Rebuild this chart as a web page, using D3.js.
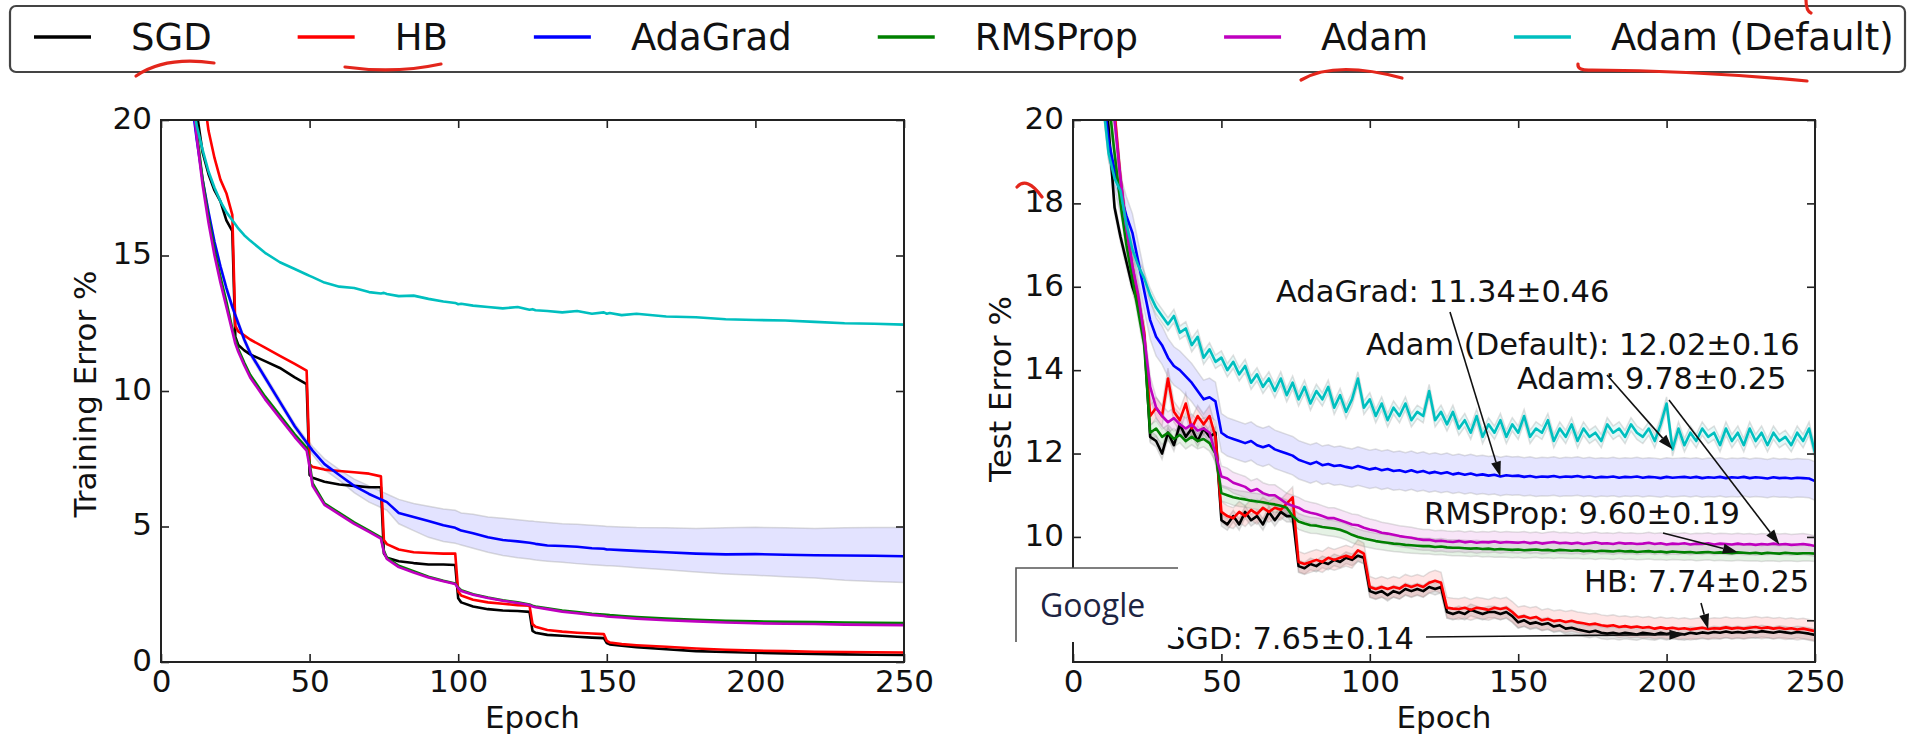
<!DOCTYPE html>
<html>
<head>
<meta charset="utf-8">
<script src="https://cdn.jsdelivr.net/npm/d3@7"></script>
<style>
  html, body { margin: 0; padding: 0; background: #fff; }
  svg { display: block; }
</style>
</head>
<body>
<svg id="chart" width="1919" height="741"></svg>
<script>
// ---- series ----
const seriesNames  = ["SGD", "HB", "AdaGrad", "RMSProp", "Adam", "Adam (Default)"];
const seriesColors = ["#000000", "#ff0000", "#0000ff", "#008000", "#bf00bf", "#00bfbf"];

// ---- training error (%) ----
const trainEpochs = [8,10,12,14,16,18,20,22,24,25,26,28,30,35,40,45,49,50,51,55,60,65,70,74,75,76,80,85,90,95,99,
  100,101,105,110,115,120,124,125,126,130,135,140,145,149,150,151,155,160,170,180,190,200,210,220,230,240,250];

const trainSGD = [25,22.5,20.3,18.8,18.0,17.4,17.0,16.3,15.9,12.0,11.7,11.5,11.35,11.1,10.85,10.5,10.25,6.9,6.8,6.65,6.55,6.5,6.45,6.45,4.0,3.85,3.72,3.65,3.6,3.6,3.58,
  2.35,2.2,2.05,1.95,1.9,1.88,1.85,1.15,1.08,1.0,0.97,0.93,0.9,0.88,0.7,0.65,0.6,0.55,0.47,0.4,0.37,0.34,0.32,0.3,0.28,0.27,0.26];
const trainHB = [27,25,23,21.2,19.6,18.6,17.8,17.3,16.5,12.4,12.2,12.05,11.9,11.6,11.3,11.0,10.75,7.3,7.2,7.1,7.05,7.0,6.95,6.85,4.5,4.35,4.15,4.05,4.02,4.0,4.0,
  2.6,2.45,2.3,2.2,2.15,2.1,2.08,1.4,1.3,1.18,1.12,1.08,1.05,1.03,0.78,0.72,0.66,0.62,0.56,0.5,0.45,0.42,0.4,0.38,0.37,0.36,0.35];
const trainAdaGrad = [23,21,19.3,17.8,16.6,15.5,14.6,13.8,13.1,12.8,12.5,11.9,11.4,10.5,9.6,8.7,8.1,7.95,7.8,7.3,6.9,6.5,6.2,6.0,5.95,5.9,5.5,5.35,5.2,5.05,4.95,
  4.9,4.85,4.75,4.6,4.5,4.45,4.4,4.38,4.36,4.3,4.28,4.25,4.2,4.18,4.15,4.15,4.13,4.1,4.05,4.0,3.97,3.98,3.96,3.94,3.93,3.92,3.9];
const trainAdaGradHi = [23.1,21.1,19.4,17.9,16.7,15.6,14.7,13.9,13.2,12.9,12.6,12.0,11.5,10.6,9.7,8.8,8.2,8.1,7.95,7.5,7.1,6.75,6.5,6.3,6.25,6.2,6.0,5.85,5.75,5.65,5.6,
  5.55,5.5,5.45,5.35,5.3,5.25,5.2,5.2,5.18,5.15,5.1,5.08,5.05,5.02,5.0,5.0,4.98,4.96,4.95,4.93,4.95,4.97,4.95,4.93,4.95,4.96,4.96];
const trainAdaGradLo = [22.9,20.9,19.2,17.7,16.5,15.4,14.5,13.7,13.0,12.7,12.4,11.8,11.3,10.4,9.5,8.6,8.0,7.8,7.65,7.1,6.7,6.25,5.9,5.7,5.65,5.6,5.1,4.85,4.6,4.45,4.38,
  4.35,4.32,4.2,4.05,3.93,3.85,3.8,3.78,3.76,3.72,3.68,3.63,3.59,3.56,3.55,3.55,3.52,3.48,3.4,3.32,3.25,3.2,3.15,3.1,3.02,2.97,2.93];
const trainRMSProp = [24,21.8,19.6,17.8,16.4,15.2,14.2,13.3,12.3,11.9,11.55,11.05,10.6,9.8,9.1,8.4,7.9,7.35,6.6,5.85,5.5,5.15,4.85,4.6,4.1,3.85,3.55,3.35,3.15,3.0,2.9,
  2.75,2.65,2.5,2.38,2.28,2.2,2.12,2.08,2.05,1.98,1.9,1.84,1.78,1.75,1.74,1.73,1.7,1.66,1.6,1.56,1.52,1.5,1.48,1.47,1.46,1.45,1.44];
const trainAdam = [24,21.6,19.4,17.6,16.2,15.0,14.0,13.1,12.2,11.75,11.45,10.95,10.5,9.7,9.0,8.3,7.8,7.2,6.5,5.8,5.45,5.1,4.8,4.55,4.05,3.8,3.5,3.3,3.12,2.98,2.88,
  2.72,2.62,2.48,2.36,2.26,2.18,2.1,2.05,2.02,1.95,1.86,1.8,1.74,1.7,1.68,1.67,1.64,1.6,1.54,1.5,1.46,1.43,1.41,1.4,1.38,1.37,1.36];
const trainAdamDefault = [23.5,21.3,19.8,18.9,18.1,17.5,17.0,16.6,16.3,16.15,16.0,15.75,15.55,15.1,14.75,14.5,14.3,14.25,14.2,14.0,13.85,13.8,13.65,13.6,13.62,13.58,13.5,13.52,13.4,13.3,13.25,
  13.2,13.22,13.15,13.1,13.05,13.1,13.0,13.02,12.98,12.95,12.9,12.95,12.85,12.9,12.85,12.88,12.8,12.85,12.75,12.72,12.65,12.62,12.6,12.55,12.5,12.48,12.45];

// ---- test error (%), every second epoch from 8 to 250 ----
const testEpochs = d3.range(8, 251, 2);

const testSGD = [
  23.5,21.5,19.8,17.9,17.2,16.6,16.0,15.6,14.8,12.4,
  12.3,12.0,12.5,12.2,12.7,12.4,12.6,12.3,12.6,12.4,
  12.5,10.4,10.3,10.5,10.3,10.6,10.4,10.5,10.3,10.6,
  10.4,10.6,10.5,10.5,9.3,9.25,9.35,9.3,9.4,9.35,
  9.45,9.4,9.5,9.45,9.55,9.5,8.7,8.65,8.7,8.6,
  8.7,8.65,8.75,8.7,8.75,8.7,8.8,8.75,8.8,8.2,
  8.15,8.2,8.15,8.25,8.2,8.15,8.2,8.2,8.15,8.2,
  8.1,7.95,8.0,7.92,7.95,7.9,7.93,7.85,7.88,7.8,
  7.82,7.78,7.75,7.72,7.75,7.7,7.68,7.7,7.67,7.7,
  7.68,7.66,7.7,7.68,7.66,7.7,7.67,7.7,7.68,7.66,
  7.7,7.68,7.71,7.69,7.72,7.7,7.73,7.7,7.72,7.7,
  7.73,7.71,7.74,7.72,7.7,7.73,7.71,7.69,7.72,7.7,
  7.68,7.65];
const testHB = [
  24.5,22.5,21.0,20.2,18.6,17.4,16.5,15.7,14.9,12.9,
  13.1,12.9,13.8,13.0,12.8,13.2,12.6,12.9,12.7,12.9,
  12.4,10.6,10.5,10.45,10.6,10.5,10.65,10.55,10.7,10.6,
  10.7,10.65,10.8,10.95,9.4,9.35,9.4,9.45,9.4,9.5,
  9.45,9.5,9.55,9.5,9.68,9.6,8.8,8.75,8.8,8.75,
  8.8,8.76,8.85,8.8,8.85,8.8,8.9,8.95,8.9,8.3,
  8.28,8.27,8.3,8.25,8.3,8.28,8.25,8.3,8.27,8.3,
  8.2,8.07,8.1,8.05,8.08,8.0,8.03,7.98,8.0,7.96,
  7.99,7.95,7.93,7.9,7.92,7.88,7.86,7.88,7.84,7.86,
  7.83,7.85,7.82,7.84,7.8,7.83,7.8,7.82,7.79,7.81,
  7.78,7.8,7.82,7.79,7.81,7.8,7.83,7.8,7.82,7.8,
  7.82,7.84,7.81,7.83,7.8,7.82,7.79,7.81,7.78,7.8,
  7.77,7.74];
const testAdaGrad = [
  23.0,20.8,19.5,18.8,18.2,17.7,17.3,16.6,15.9,15.2,
  14.8,14.6,14.3,14.1,14.0,13.85,13.7,13.5,13.3,13.35,
  13.25,12.5,12.4,12.35,12.3,12.25,12.3,12.2,12.15,12.2,
  12.1,12.05,12.0,11.95,11.85,11.8,11.75,11.8,11.72,11.75,
  11.7,11.72,11.68,11.65,11.7,11.66,11.62,11.65,11.6,11.63,
  11.58,11.6,11.56,11.6,11.55,11.58,11.53,11.56,11.52,11.55,
  11.5,11.53,11.49,11.52,11.48,11.5,11.47,11.49,11.45,11.48,
  11.46,11.47,11.44,11.46,11.43,11.45,11.44,11.46,11.43,11.45,
  11.44,11.46,11.43,11.45,11.42,11.44,11.43,11.45,11.42,11.44,
  11.43,11.45,11.42,11.44,11.43,11.41,11.44,11.42,11.43,11.44,
  11.42,11.44,11.41,11.43,11.42,11.44,11.41,11.43,11.42,11.44,
  11.41,11.43,11.42,11.4,11.43,11.41,11.42,11.4,11.42,11.41,
  11.4,11.34];
const testRMSProp = [
  24.0,22.0,20.5,19.2,18.0,17.0,16.2,15.4,14.6,12.5,
  12.6,12.4,12.5,12.35,12.45,12.3,12.4,12.3,12.35,12.25,
  12.0,11.05,11.0,10.95,10.92,10.9,10.87,10.85,10.83,10.8,
  10.78,10.75,10.7,10.5,10.37,10.32,10.28,10.27,10.24,10.22,
  10.2,10.17,10.12,10.05,10.0,9.96,9.93,9.9,9.88,9.86,
  9.84,9.83,9.81,9.8,9.79,9.78,9.78,9.76,9.77,9.75,
  9.74,9.74,9.73,9.72,9.73,9.71,9.72,9.7,9.71,9.7,
  9.69,9.7,9.68,9.69,9.7,9.68,9.69,9.67,9.69,9.68,
  9.67,9.68,9.66,9.67,9.65,9.67,9.66,9.65,9.67,9.65,
  9.66,9.64,9.65,9.66,9.64,9.65,9.63,9.65,9.64,9.63,
  9.64,9.62,9.63,9.64,9.62,9.63,9.62,9.61,9.63,9.62,
  9.61,9.62,9.6,9.62,9.61,9.6,9.62,9.61,9.6,9.61,
  9.61,9.60];
const testAdam = [
  24.5,22.8,21.2,20.0,18.6,17.4,16.5,15.8,14.8,13.6,
  13.1,12.9,12.75,12.85,12.7,12.6,12.7,12.55,12.6,12.5,
  12.0,11.45,11.4,11.3,11.25,11.2,11.1,11.15,11.05,11.0,
  11.0,10.9,10.8,10.75,10.7,10.62,10.58,10.55,10.5,10.45,
  10.45,10.4,10.35,10.3,10.28,10.22,10.18,10.15,10.1,10.08,
  10.05,10.02,10.0,9.98,9.95,9.93,9.93,9.9,9.91,9.89,
  9.88,9.9,9.87,9.89,9.86,9.88,9.87,9.89,9.86,9.88,
  9.87,9.86,9.88,9.85,9.87,9.84,9.86,9.88,9.85,9.86,
  9.84,9.86,9.83,9.85,9.87,9.84,9.85,9.83,9.86,9.84,
  9.85,9.83,9.84,9.86,9.83,9.85,9.82,9.84,9.83,9.85,
  9.82,9.84,9.83,9.85,9.82,9.84,9.83,9.82,9.84,9.82,
  9.83,9.81,9.83,9.82,9.84,9.82,9.83,9.81,9.82,9.83,
  9.81,9.78];
const testAdamDefault = [
  22.5,20.5,19.2,18.6,18.3,17.5,16.9,16.5,16.2,15.8,
  15.5,15.3,15.1,15.3,14.9,15.0,14.6,14.8,14.3,14.5,
  14.2,14.3,14.0,14.2,13.9,14.1,13.7,13.9,13.6,13.8,
  13.5,13.8,13.4,13.7,13.3,13.6,13.2,13.5,13.3,13.6,
  13.1,13.4,13.0,13.3,13.8,13.1,13.3,12.9,13.2,12.8,
  13.1,12.9,13.2,12.8,13.0,12.9,13.5,12.8,13.0,12.7,
  13.0,12.6,12.8,12.5,12.9,12.4,12.7,12.5,12.8,12.4,
  12.7,12.5,12.9,12.4,12.6,12.5,12.8,12.3,12.6,12.4,
  12.7,12.3,12.6,12.4,12.5,12.3,12.7,12.5,12.6,12.4,
  12.7,12.5,12.4,12.6,12.3,12.7,13.2,12.1,12.6,12.2,
  12.5,12.3,12.6,12.4,12.5,12.2,12.6,12.3,12.5,12.2,
  12.6,12.3,12.5,12.2,12.5,12.3,12.4,12.2,12.5,12.3,
  12.6,12.02];
// spread over runs at the end of training
const testStd = [0.14, 0.25, 0.46, 0.19, 0.25, 0.16];
// epoch each annotation arrow points at
const arrowEpochs = [206, 214, 144, 224, 238, 202];

const trainSeries = [trainSGD, trainHB, trainAdaGrad, trainRMSProp, trainAdam, trainAdamDefault];
const testSeries  = [testSGD, testHB, testAdaGrad, testRMSProp, testAdam, testAdamDefault];

// ---- drawing ----
const FONT = "DejaVu Sans";
const svg = d3.select("#chart");

const panels = [
  { x0: 161, x1: 904,  y0: 120, y1: 662, yDomain: [0, 20], yTicks: [0, 5, 10, 15, 20],
    yLabelTicks: [0, 5, 10, 15, 20], title: "Training Error %", labelX: 96, labelY: 394 },
  { x0: 1073, x1: 1815, y0: 120, y1: 662, yDomain: [7, 20], yTicks: [8, 10, 12, 14, 16, 18, 20],
    yLabelTicks: [10, 12, 14, 16, 18, 20], title: "Test Error %", labelX: 1011, labelY: 389 }
];
const xTicks = [0, 50, 100, 150, 200, 250];

panels.forEach((p, pi) => {
  p.x = d3.scaleLinear().domain([0, 250]).range([p.x0, p.x1]);
  p.y = d3.scaleLinear().domain(p.yDomain).range([p.y1, p.y0]);
  svg.append("clipPath").attr("id", "clip" + pi)
    .append("rect").attr("x", p.x0).attr("y", p.y0).attr("width", p.x1 - p.x0).attr("height", p.y1 - p.y0);
  p.g = svg.append("g");
  p.plot = p.g.append("g").attr("clip-path", `url(#clip${pi})`);
});

function styleAxis(sel) {
  sel.select(".domain").remove();
  sel.selectAll(".tick line").attr("stroke", "#222").attr("stroke-width", 1.6);
  sel.selectAll(".tick text").attr("font-family", FONT).attr("font-size", 31).attr("fill", "#111");
}

// training panel
(function () {
  const p = panels[0];
  const line = d3.line().x((d, i) => p.x(trainEpochs[i])).y(d => p.y(d));
  const area = d3.area().x((d, i) => p.x(trainEpochs[i]))
    .y0((d, i) => p.y(trainAdaGradLo[i])).y1((d, i) => p.y(trainAdaGradHi[i]));
  p.plot.append("path").datum(trainAdaGrad).attr("d", area)
    .attr("fill", "#0000ff").attr("fill-opacity", 0.11).attr("stroke", "none");
  [trainAdaGradHi, trainAdaGradLo].forEach(edge => {
    p.plot.append("path").datum(edge).attr("d", line)
      .attr("fill", "none").attr("stroke", "#999").attr("stroke-opacity", 0.35).attr("stroke-width", 1.5);
  });
  trainSeries.forEach((s, i) => {
    p.plot.append("path").datum(s).attr("d", line)
      .attr("fill", "none").attr("stroke", seriesColors[i]).attr("stroke-width", 2.6)
      .attr("stroke-linejoin", "round");
  });
})();

// test panel
(function () {
  const p = panels[1];
  const line = d3.line().x((d, i) => p.x(testEpochs[i])).y(d => p.y(d));
  testSeries.forEach((s, i) => {
    const sd = testStd[i];
    const area = d3.area().x((d, j) => p.x(testEpochs[j])).y0(d => p.y(d - sd)).y1(d => p.y(d + sd));
    p.plot.append("path").datum(s).attr("d", area)
      .attr("fill", seriesColors[i]).attr("fill-opacity", 0.1).attr("stroke", "none");
    [-sd, sd].forEach(off => {
      p.plot.append("path").datum(s.map(v => v + off)).attr("d", line)
        .attr("fill", "none").attr("stroke", "#999").attr("stroke-opacity", 0.3).attr("stroke-width", 1.5);
    });
  });
  testSeries.forEach((s, i) => {
    p.plot.append("path").datum(s).attr("d", line)
      .attr("fill", "none").attr("stroke", seriesColors[i]).attr("stroke-width", 2.6)
      .attr("stroke-linejoin", "round");
  });
})();

// axes, frames, labels
panels.forEach(p => {
  p.g.append("g").attr("transform", `translate(${p.x0},0)`)
    .call(d3.axisLeft(p.y).tickValues(p.yLabelTicks).tickSizeInner(-8).tickSizeOuter(0).tickPadding(9).tickFormat(d3.format("d")))
    .call(styleAxis).call(g => g.selectAll(".tick text").attr("dy", "0.27em"));
  p.g.append("g").attr("transform", `translate(${p.x1},0)`)
    .call(d3.axisRight(p.y).tickValues(p.yTicks).tickSizeInner(-8).tickSizeOuter(0).tickFormat(""))
    .call(styleAxis);
  p.g.append("g").attr("transform", `translate(0,${p.y1})`)
    .call(d3.axisBottom(p.x).tickValues(xTicks).tickSizeInner(-8).tickSizeOuter(0).tickPadding(8).tickFormat(d3.format("d")))
    .call(styleAxis);
  p.g.append("g").attr("transform", `translate(0,${p.y0})`)
    .call(d3.axisTop(p.x).tickValues(xTicks).tickSizeInner(-8).tickSizeOuter(0).tickFormat(""))
    .call(styleAxis);
  p.g.append("rect").attr("x", p.x0).attr("y", p.y0).attr("width", p.x1 - p.x0).attr("height", p.y1 - p.y0)
    .attr("fill", "none").attr("stroke", "#222").attr("stroke-width", 2);
  p.g.append("text").attr("x", (p.x0 + p.x1) / 2).attr("y", 728).attr("text-anchor", "middle")
    .attr("font-family", FONT).attr("font-size", 31).attr("fill", "#111").text("Epoch");
  p.g.append("text").attr("transform", `translate(${p.labelX},${p.labelY}) rotate(-90)`)
    .attr("text-anchor", "middle").attr("font-family", FONT).attr("font-size", 31).attr("fill", "#111")
    .text(p.title);
});

// annotations on the test panel: final error ± spread, with arrows
(function () {
  const p = panels[1];
  const ann = [
    { i: 0, tx: 1166, ty: 649, ax: 1426, ay: 637 },
    { i: 1, tx: 1584, ty: 592, ax: 1701, ay: 603 },
    { i: 2, tx: 1276, ty: 302, ax: 1450, ay: 312 },
    { i: 3, tx: 1424, ty: 524, ax: 1663, ay: 533 },
    { i: 4, tx: 1517, ty: 389, ax: 1669, ay: 400 },
    { i: 5, tx: 1366, ty: 355, ax: 1607, ay: 375 }
  ];
  const g = p.g.append("g");
  ann.forEach(a => {
    const s = testSeries[a.i];
    const final = s[s.length - 1];
    g.append("text").attr("x", a.tx).attr("y", a.ty)
      .attr("font-family", FONT).attr("font-size", 30.5).attr("fill", "#111")
      .text(`${seriesNames[a.i]}: ${final.toFixed(2)}\u00b1${testStd[a.i].toFixed(2)}`);
  });
  ann.forEach(a => {
    const s = testSeries[a.i];
    const ep = arrowEpochs[a.i];
    const tipX = p.x(ep), tipY = p.y(s[testEpochs.indexOf(ep)]);
    const dx = tipX - a.ax, dy = tipY - a.ay, len = Math.hypot(dx, dy);
    const ux = dx / len, uy = dy / len, hl = 15, hw = 5;
    const bx = tipX - ux * hl, by = tipY - uy * hl;
    g.append("line").attr("x1", a.ax).attr("y1", a.ay).attr("x2", bx).attr("y2", by)
      .attr("stroke", "#111").attr("stroke-width", 1.6);
    g.append("path")
      .attr("d", `M${tipX},${tipY}L${bx - uy * hw},${by + ux * hw}L${bx + uy * hw},${by - ux * hw}Z`)
      .attr("fill", "#111");
  });
})();

// legend
(function () {
  const g = svg.append("g");
  g.append("rect").attr("x", 10).attr("y", 6).attr("width", 1895).attr("height", 66).attr("rx", 6)
    .attr("fill", "#fff").attr("stroke", "#444").attr("stroke-width", 2.2);
  let lx = 34;
  seriesNames.forEach((n, i) => {
    g.append("line").attr("x1", lx).attr("x2", lx + 57).attr("y1", 37).attr("y2", 37)
      .attr("stroke", seriesColors[i]).attr("stroke-width", 3.5);
    const t = g.append("text").attr("x", lx + 97).attr("y", 50)
      .attr("font-family", FONT).attr("font-size", 37).attr("fill", "#111").text(n);
    lx += 97 + t.node().getComputedTextLength() + 86;
  });
})();

// overlaid search-box fragment
(function () {
  const g = svg.append("g");
  g.append("rect").attr("x", 1016).attr("y", 568).attr("width", 162).attr("height", 74).attr("fill", "#fff");
  g.append("path").attr("d", "M1016,642V568H1178").attr("fill", "none").attr("stroke", "#555").attr("stroke-width", 1.6);
  g.append("text").attr("x", 1040).attr("y", 617).attr("font-family", "Open Sans, sans-serif")
    .attr("font-size", 32).attr("fill", "#1d2442").text("Google");
})();

// red pen marks
(function () {
  const marks = [
    "M136,76 Q165,56 214,63",
    "M345,67 Q395,74 441,64",
    "M1301,80 Q1335,60 1402,78",
    "M1578,64 Q1577,71 1592,70 Q1700,71 1807,81",
    "M1806,0 Q1806,11 1811,13",
    "M1017,187 Q1027,176 1042,197"
  ];
  svg.append("g").selectAll("path").data(marks).join("path")
    .attr("d", d => d).attr("fill", "none").attr("stroke", "#e3261c")
    .attr("stroke-width", 3.2).attr("stroke-linecap", "round");
})();
</script>
</body>
</html>
